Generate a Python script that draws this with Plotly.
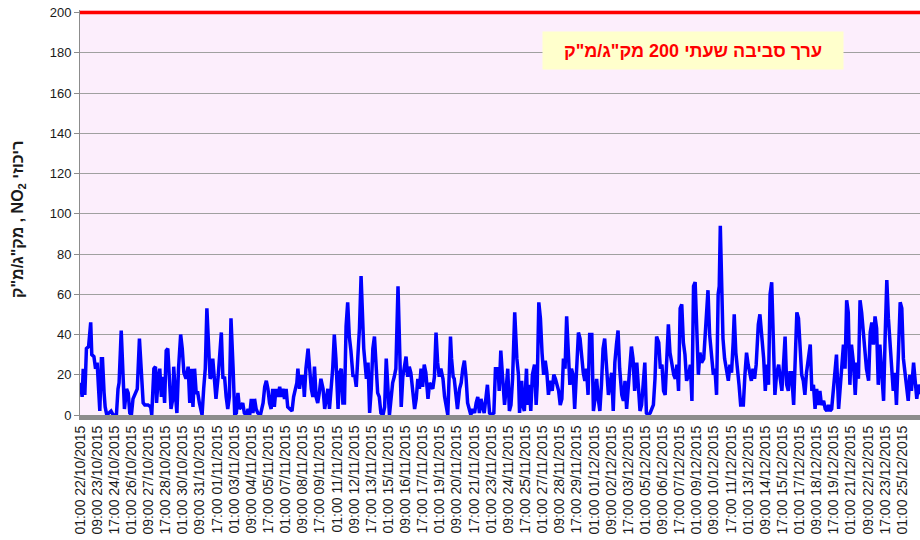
import datetime as dt
import plotly.graph_objects as go

# hours since 01:00 22/10/2015 and NO2 readings (µg/m³)
hours = [1, 4, 6, 9, 12, 16, 20, 22, 26, 29, 32, 35, 37, 40, 42, 45, 47, 50, 55, 58, 62, 68, 71, 73, 77, 80, 83, 87, 90, 93, 96, 99, 103, 107, 111, 114, 118, 121, 127, 132, 134, 138, 141, 143, 146, 149, 152, 155, 158, 161, 164, 167, 170, 174, 175, 178, 181, 184, 188, 191, 194, 198, 202, 205, 208, 211, 214, 217, 220, 223, 228, 231, 234, 237, 240, 243, 245, 248, 251, 254, 258, 261, 264, 267, 270, 273, 276, 279, 282, 286, 289, 292, 295, 298, 301, 304, 307, 310, 314, 317, 320, 323, 326, 329, 332, 337, 342, 345, 348, 351, 354, 357, 360, 363, 366, 370, 373, 376, 379, 382, 385, 388, 392, 396, 399, 402, 405, 407, 410, 413, 417, 419, 422, 426, 429, 432, 435, 438, 441, 444, 447, 450, 454, 457, 460, 463, 466, 469, 472, 475, 478, 482, 485, 488, 491, 494, 497, 500, 503, 506, 510, 513, 516, 519, 522, 525, 528, 530, 533, 535, 538, 541, 544, 547, 550, 553, 556, 559, 562, 566, 569, 572, 575, 578, 581, 584, 587, 590, 594, 597, 600, 603, 606, 609, 612, 615, 618, 622, 625, 628, 631, 634, 637, 640, 643, 646, 650, 653, 656, 659, 662, 665, 668, 671, 674, 678, 681, 684, 687, 690, 692, 694, 697, 699, 702, 705, 709, 712, 715, 718, 721, 724, 727, 730, 733, 737, 740, 743, 746, 749, 752, 755, 758, 761, 765, 768, 773, 776, 778,
         781, 783, 786, 789, 793, 796, 799, 802, 805, 808, 812, 816, 819, 821, 825, 827, 830, 834, 836, 839, 842, 845, 849, 852, 854, 857, 860, 863, 866, 869, 872, 875, 878, 882, 885, 888, 891, 894, 897, 900, 903, 906, 909, 912, 915, 918, 921, 924, 928, 931, 934, 937, 940, 943, 946, 949, 952, 956, 959, 962, 965, 968, 971, 974, 977, 980, 984, 987, 990, 993, 996, 999, 1002, 1005, 1008, 1012, 1015, 1018, 1021, 1024, 1027, 1030, 1033, 1036, 1040, 1043, 1046, 1049, 1052, 1055, 1058, 1061, 1065, 1068, 1071, 1074, 1077, 1081, 1084, 1087, 1090, 1093, 1096, 1099, 1102, 1105, 1109, 1112, 1115, 1118, 1121, 1124, 1127, 1130, 1133, 1137, 1140, 1143, 1146, 1149, 1152, 1155, 1158, 1161, 1165, 1168, 1171, 1173, 1176, 1180, 1183, 1186, 1189, 1192, 1194, 1196, 1199, 1201, 1204, 1208, 1211, 1214, 1217, 1220, 1222, 1225, 1228, 1231, 1234, 1239, 1242, 1245, 1248, 1251, 1254, 1257, 1260, 1263, 1267, 1270, 1273, 1277, 1280, 1283, 1286, 1289, 1292, 1295, 1298, 1301, 1305, 1308, 1311, 1314, 1317, 1320, 1323, 1326, 1329, 1333, 1336, 1339, 1342, 1345, 1348, 1351, 1354, 1357, 1361, 1364, 1367, 1370, 1373, 1376, 1379, 1382, 1385, 1389, 1392, 1395, 1398, 1401, 1404, 1407, 1410, 1413, 1417, 1420, 1423, 1426, 1429, 1432, 1435, 1438, 1441, 1445, 1448, 1451, 1454, 1457, 1460, 1463, 1466, 1469, 1473, 1476, 1479, 1482, 1485, 1488, 1491, 1494, 1497, 1501, 1504, 1507, 1510, 1513, 1516, 1519, 1522, 1525, 1529, 1532, 1535, 1538, 1541, 1544, 1547, 1550, 1553, 1557, 1560, 1563, 1566, 1572]

no2 = [16, 9, 23, 10, 33, 34, 46, 30, 29, 23, 26, 6, 2, 28, 28, 11, 4, 0, 1, 2, 0, 0, 13, 16, 42, 23, 3, 13, 11, 1, 0, 8, 11, 13, 38, 24, 6, 5, 5, 4, 0, 23, 24, 6, 18, 23, 9, 19, 6, 32, 33, 18, 3, 9, 24, 11, 1, 23, 40, 33, 21, 18, 24, 6, 23, 4, 23, 11, 11, 6, 0, 13, 23, 53, 31, 18, 19, 28, 18, 8, 19, 34, 41, 18, 19, 9, 3, 9, 48, 23, 0, 1, 11, 3, 4, 6, 1, 0, 3, 0, 8, 1, 8, 3, 1, 0, 6, 14, 17, 13, 6, 3, 13, 4, 13, 9, 14, 9, 13, 8, 13, 4, 3, 2, 9, 13, 16, 23, 13, 19, 19, 9, 23, 33, 23, 13, 9, 24, 9, 6, 11, 18, 13, 3, 8, 13, 3, 14, 23, 40, 28, 3, 21, 23, 6, 6, 44, 56, 39, 32, 19, 20, 14, 29, 43, 69, 43, 33, 24, 18, 26, 1, 13, 33, 39, 21, 11, 9, 1, 0, 4, 28, 11, 0, 8, 16, 19, 23, 64, 23, 4, 19, 23, 29, 19, 24, 21, 9, 3, 8, 18, 13, 23, 14, 25, 21, 8, 16, 14, 13, 19, 41, 26, 19, 23, 18, 9, 3, 0, 23, 39, 28, 19, 18, 8, 3, 13, 16, 23, 27, 19, 6, 3, 0, 3, 1, 6, 9, 1, 8, 4, 1, 8, 15, 1, 0, 1, 23, 23,
       23, 12, 32, 20, 5, 13, 23, 2, 5, 18, 51, 28, 20, 1, 17, 5, 2, 23, 5, 15, 2, 20, 25, 5, 15, 56, 48, 31, 20, 27, 21, 10, 17, 12, 20, 18, 15, 12, 5, 8, 28, 23, 49, 28, 15, 23, 20, 3, 21, 41, 38, 28, 21, 17, 23, 10, 40, 40, 2, 8, 18, 8, 2, 15, 33, 38, 25, 10, 15, 21, 2, 26, 35, 42, 23, 10, 7, 17, 3, 15, 23, 34, 28, 12, 26, 15, 2, 5, 17, 26, 1, 0, 1, 3, 5, 18, 39, 36, 23, 25, 12, 10, 31, 45, 31, 25, 20, 18, 25, 12, 53, 55, 36, 30, 17, 20, 25, 7, 64, 66, 40, 20, 31, 26, 28, 43, 51, 62, 40, 26, 20, 23, 10, 60, 64, 94, 60, 38, 28, 21, 17, 25, 21, 36, 50, 31, 20, 15, 5, 5, 20, 31, 25, 20, 17, 23, 18, 25, 45, 50, 40, 28, 12, 25, 15, 60, 66, 33, 10, 20, 25, 18, 12, 25, 39, 15, 12, 21, 21, 5, 28, 51, 48, 35, 20, 17, 10, 21, 30, 35, 12, 15, 3, 13, 5, 12, 5, 7, 3, 2, 5, 2, 3, 12, 18, 30, 3, 15, 28, 35, 23, 57, 51, 15, 35, 25, 10, 26, 18, 57, 51, 41, 31, 23, 17, 41, 46, 35, 49, 43, 15, 35, 23, 7, 40, 67, 48, 35, 23, 12, 21, 5, 33, 56, 53, 28, 21, 12, 7, 20, 12, 26, 15, 8, 15, 10]

limit_value = 200
limit_label = 'ערך סביבה שעתי 200 מק"ג/מ"ק'
y_title = 'מק"ג/מ"ק , NO<sub>2</sub> ריכוזי'
y_ticks = [0, 20, 40, 60, 80, 100, 120, 140, 160, 180, 200]

start = dt.datetime(2015, 10, 22, 1, 0)
x_times = [start + dt.timedelta(hours=h) for h in hours]
x_end = start + dt.timedelta(hours=1569)

fig = go.Figure()
fig.add_trace(go.Scatter(
    x=[start, x_end], y=[limit_value, limit_value], mode="lines",
    line=dict(color="#FF0000", width=3.5), showlegend=False,
    hoverinfo="skip"))
fig.add_trace(go.Scatter(
    x=x_times, y=no2, mode="lines",
    line=dict(color="#0000FF", width=3.5), showlegend=False))

fig.update_layout(
    width=920, height=540,
    margin=dict(l=80, r=0, t=10, b=125, autoexpand=False),
    paper_bgcolor="white", plot_bgcolor="#FCEEFC",
    font=dict(family="Liberation Sans, Arial, sans-serif", color="#1a1a1a"),
    xaxis=dict(
        type="date", range=[start, x_end], automargin=False,
        tick0=start, dtick=32 * 3600 * 1000,
        tickformat="%H:%M %d/%m/%Y", tickangle=-90,
        tickfont=dict(size=14, color="#1a1a1a"),
        showgrid=False, showline=True, linecolor="#8C8C8C", linewidth=5,
        ticks="", zeroline=False),
    yaxis=dict(
        range=[0, 201.25], tickvals=y_ticks, automargin=False,
        tickfont=dict(size=13, color="#1a1a1a"),
        showgrid=True, gridcolor="#A0A0A0", gridwidth=1,
        showline=True, linecolor="#8C8C8C", linewidth=1,
        ticks="outside", ticklen=5, tickcolor="#8C8C8C", zeroline=False),
    annotations=[
        dict(x=(693 - 80) / 840, y=(415 - 51) / 405, xref="paper", yref="paper",
             xanchor="center", yanchor="middle",
             text="<b>" + limit_label + "</b>", showarrow=False, bgcolor="#FFFFCC",
             font=dict(size=18, color="#FF0000",
                       family="Liberation Sans, Arial, sans-serif"),
             width=294, height=31, borderpad=3),
        dict(x=(18 - 80) / 840, y=(415 - 220) / 405, xref="paper", yref="paper",
             xanchor="center", yanchor="middle",
             text="<b>" + y_title + "</b>", showarrow=False, textangle=-90,
             font=dict(size=16, color="#1a1a1a",
                       family="Liberation Sans, Arial, sans-serif")),
    ],
)

fig.write_html("out.html", config={"displayModeBar": False},
               post_script="document.body.style.margin='0';")
